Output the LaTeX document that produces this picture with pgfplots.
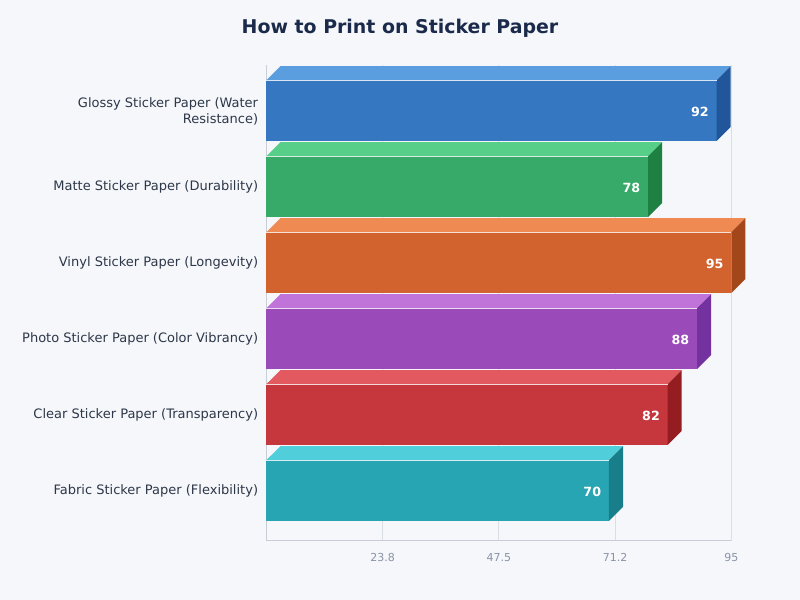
\documentclass[border=0pt]{standalone}
\usepackage{pgfplots}
\pgfplotsset{compat=1.18}
\usepackage{fontspec}
\setmainfont{DejaVu Sans}
\definecolor{bg}{HTML}{F5F7FB}
\definecolor{titlec}{HTML}{1B2A4A}
\definecolor{labc}{HTML}{2D3748}
\definecolor{tickc}{HTML}{8A93A5}
\definecolor{gridc}{HTML}{DADEE5}
\definecolor{axc}{HTML}{C9CED6}
\definecolor{gF}{HTML}{3577C0}\definecolor{gT}{HTML}{5A9EE0}\definecolor{gS}{HTML}{21579A}
\definecolor{mF}{HTML}{37A968}\definecolor{mT}{HTML}{58CF89}\definecolor{mS}{HTML}{1F8044}
\definecolor{vF}{HTML}{D2632E}\definecolor{vT}{HTML}{EE8A52}\definecolor{vS}{HTML}{A3461A}
\definecolor{pF}{HTML}{9B4BB9}\definecolor{pT}{HTML}{C073D9}\definecolor{pS}{HTML}{7332A0}
\definecolor{cF}{HTML}{C6363D}\definecolor{cT}{HTML}{E2595F}\definecolor{cS}{HTML}{951D22}
\definecolor{fF}{HTML}{27A5B3}\definecolor{fT}{HTML}{50CFDB}\definecolor{fS}{HTML}{187F8A}
\begin{document}
\begin{tikzpicture}
\fill[bg] (0,0) rectangle (600pt,450pt);
\node[font=\fontsize{14.2}{16}\selectfont\bfseries, text=titlec] at (300pt,428.5pt) {How to Print on Sticker Paper};
\begin{axis}[
  at={(199.75pt,44.25pt)}, anchor=south west,
  scale only axis, width=348.75pt, height=357pt,
  xmin=0, xmax=95, ymin=-0.664, ymax=5.6,
  clip=false,
  axis lines=left,
  axis line style={draw=axc, line width=0.75pt, -},
  xmajorgrids, major grid style={draw=gridc, line width=0.6pt},
  xtick={23.75,47.5,71.25,95}, xticklabels={23.8,47.5,71.2,95},
  ytick={0,1,2,3,4,5},
  yticklabels={Fabric Sticker Paper (Flexibility),Clear Sticker Paper (Transparency),Photo Sticker Paper (Color Vibrancy),Vinyl Sticker Paper (Longevity),Matte Sticker Paper (Durability),{Glossy Sticker Paper (Water\\Resistance)}},
  major tick length=0pt,
  /pgf/number format/assume math mode=true,
  yticklabel style={font=\fontsize{9.75}{12}\selectfont, text=labc, align=right, inner sep=0pt, xshift=-6pt, yshift=-0.6pt},
  xticklabel style={font=\fontsize{8.25}{10}\selectfont, text=tickc, inner sep=0pt, yshift=-8.8pt},
  every node near coord/.append style={anchor=east, inner sep=0pt, xshift=-5.7pt, yshift=-1.3pt, text=white, font=\fontsize{9.5}{11}\selectfont\bfseries},
]
% Glossy
\addplot[xbar, bar width=0.8, bar shift=0, draw=none, fill=gF, nodes near coords={92}] coordinates {(92,5)};
\addplot[draw=none, fill=gT] coordinates {(0,5.4)(2.87,5.584)(94.87,5.584)(92,5.4)} --cycle;
\addplot[draw=none, fill=gS] coordinates {(92,5.4)(94.87,5.584)(94.87,4.784)(92,4.6)} --cycle;
\addplot[white!80!gF, line width=0.75pt] coordinates {(0,5.4)(92,5.4)};
% Matte
\addplot[xbar, bar width=0.8, bar shift=0, draw=none, fill=mF, nodes near coords={78}] coordinates {(78,4)};
\addplot[draw=none, fill=mT] coordinates {(0,4.4)(2.87,4.584)(80.87,4.584)(78,4.4)} --cycle;
\addplot[draw=none, fill=mS] coordinates {(78,4.4)(80.87,4.584)(80.87,3.784)(78,3.6)} --cycle;
\addplot[white!80!mF, line width=0.75pt] coordinates {(0,4.4)(78,4.4)};
% Vinyl
\addplot[xbar, bar width=0.8, bar shift=0, draw=none, fill=vF, nodes near coords={95}] coordinates {(95,3)};
\addplot[draw=none, fill=vT] coordinates {(0,3.4)(2.87,3.584)(97.87,3.584)(95,3.4)} --cycle;
\addplot[draw=none, fill=vS] coordinates {(95,3.4)(97.87,3.584)(97.87,2.784)(95,2.6)} --cycle;
\addplot[white!80!vF, line width=0.75pt] coordinates {(0,3.4)(95,3.4)};
% Photo
\addplot[xbar, bar width=0.8, bar shift=0, draw=none, fill=pF, nodes near coords={88}] coordinates {(88,2)};
\addplot[draw=none, fill=pT] coordinates {(0,2.4)(2.87,2.584)(90.87,2.584)(88,2.4)} --cycle;
\addplot[draw=none, fill=pS] coordinates {(88,2.4)(90.87,2.584)(90.87,1.784)(88,1.6)} --cycle;
\addplot[white!80!pF, line width=0.75pt] coordinates {(0,2.4)(88,2.4)};
% Clear
\addplot[xbar, bar width=0.8, bar shift=0, draw=none, fill=cF, nodes near coords={82}] coordinates {(82,1)};
\addplot[draw=none, fill=cT] coordinates {(0,1.4)(2.87,1.584)(84.87,1.584)(82,1.4)} --cycle;
\addplot[draw=none, fill=cS] coordinates {(82,1.4)(84.87,1.584)(84.87,0.784)(82,0.6)} --cycle;
\addplot[white!80!cF, line width=0.75pt] coordinates {(0,1.4)(82,1.4)};
% Fabric
\addplot[xbar, bar width=0.8, bar shift=0, draw=none, fill=fF, nodes near coords={70}] coordinates {(70,0)};
\addplot[draw=none, fill=fT] coordinates {(0,0.4)(2.87,0.584)(72.87,0.584)(70,0.4)} --cycle;
\addplot[draw=none, fill=fS] coordinates {(70,0.4)(72.87,0.584)(72.87,-0.216)(70,-0.4)} --cycle;
\addplot[white!80!fF, line width=0.75pt] coordinates {(0,0.4)(70,0.4)};
\end{axis}
\end{tikzpicture}
\end{document}
